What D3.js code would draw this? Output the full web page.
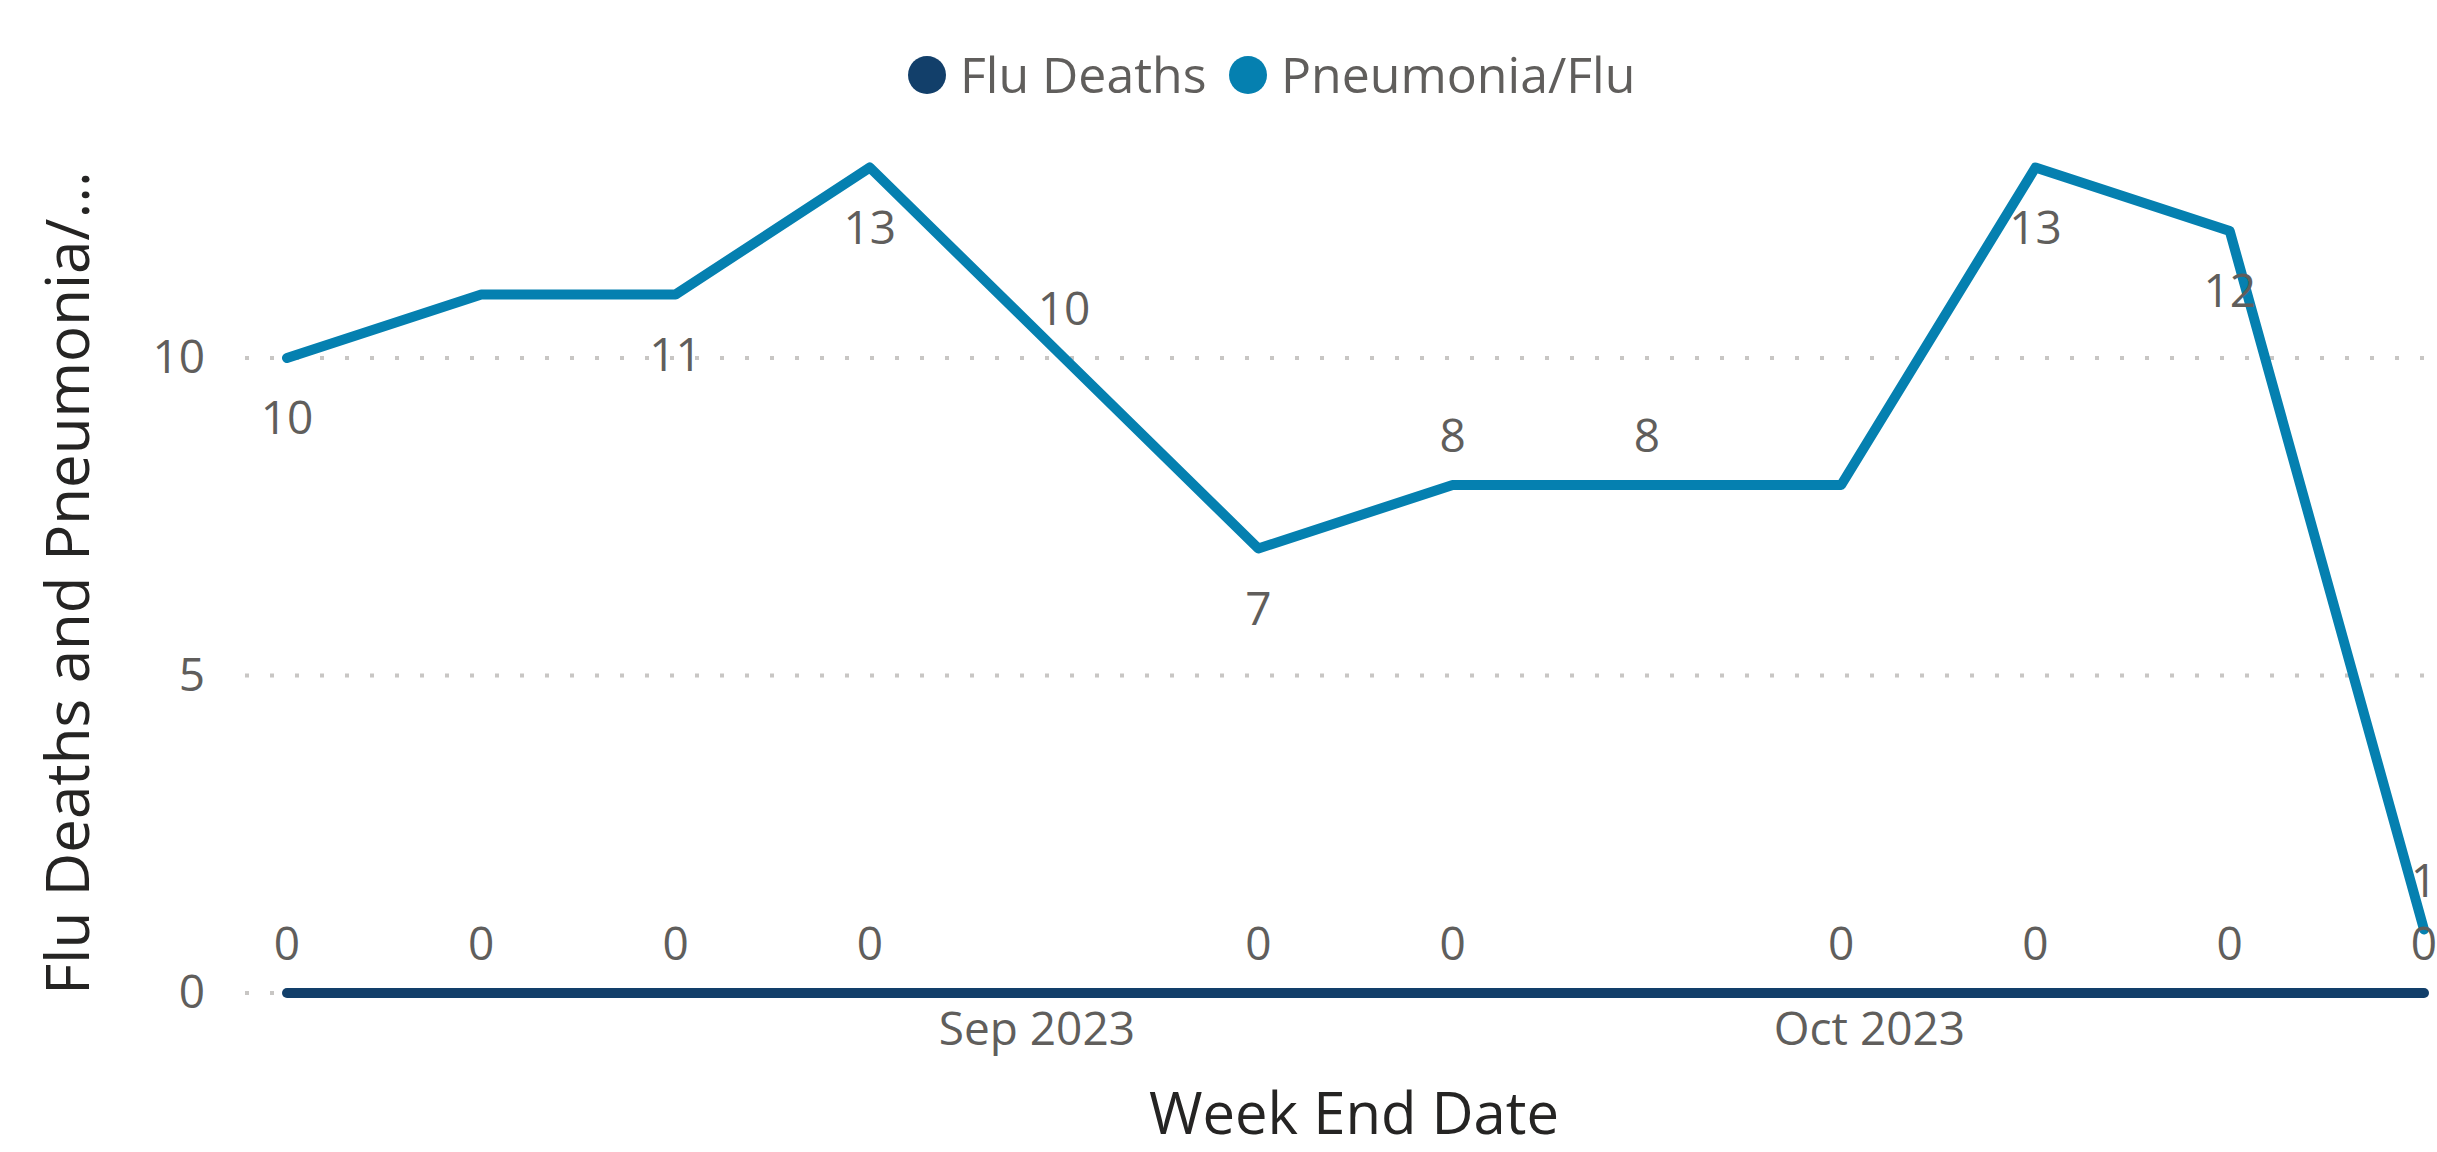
<!DOCTYPE html>
<html>
<head>
<meta charset="utf-8">
<script src="https://cdn.jsdelivr.net/npm/d3@7"></script>
<style>
  body { margin: 0; background: #fff; }
  text { font-family: 'Segoe UI', 'Open Sans', sans-serif; }
</style>
</head>
<body>
<div id="viz"></div>
<script>
var width = 2437,
    height = 1152;

var colorDeaths = '#123f6a',
    colorPneu = '#0580b0',
    gris = '#605e5c',
    oscuro = '#252423';

// datos (semana que termina en sabado)
var weekEnd = ['2023-08-05', '2023-08-12', '2023-08-19', '2023-08-26', '2023-09-02', '2023-09-09',
               '2023-09-16', '2023-09-23', '2023-09-30', '2023-10-07', '2023-10-14', '2023-10-21'];
var fluDeaths = [0, 0, 0, 0, 0, 0, 0, 0, 0, 0, 0, 0];
var pneumoniaFlu = [10, 11, 11, 13, 10, 7, 8, 8, 8, 13, 12, 1];
var seriesNames = ['Flu Deaths', 'Pneumonia/Flu'];
var yTicks = [0, 5, 10];
var xTicks = ['2023-09-01', '2023-10-01'];

// donde va cada etiqueta (como la pone Power BI)
var pneuLabelPos = ['below', '', 'below', 'below', 'above', 'below', 'above', 'above', '', 'below', 'below', 'above'];
var deathLabelPos = ['above', 'above', 'above', 'above', '', 'above', 'above', '', 'above', 'above', 'above', 'above'];

var parse = d3.timeParse('%Y-%m-%d');
var fechas = weekEnd.map(parse);

var svg = d3.select('#viz')
  .append('svg')
  .attr('width', width)
  .attr('height', height)
  .style('background', '#fff');

var x = d3.scaleTime()
  .domain(d3.extent(fechas))
  .range([287, 2424]);

var y = d3.scaleLinear()
  .domain([0, 14])
  .range([993, 104]);

// grilla punteada
svg.append('g').selectAll('line')
  .data(yTicks)
  .enter().append('line')
  .attr('x1', 245)
  .attr('x2', width)
  .attr('y1', function(d) { return y(d); })
  .attr('y2', function(d) { return y(d); })
  .attr('stroke', '#c8c6c4')
  .attr('stroke-width', 4)
  .attr('stroke-dasharray', '4 21');

// eje y
var yAxis = svg.append('g')
  .attr('transform', 'translate(205,0)')
  .call(d3.axisLeft(y).tickValues(yTicks).tickSize(0).tickPadding(0));
yAxis.select('.domain').remove();
yAxis.selectAll('text')
  .style('font-size', '46px')
  .attr('fill', gris);

// eje x
var xAxis = svg.append('g')
  .attr('transform', 'translate(0,1012)')
  .call(d3.axisBottom(x).tickValues(xTicks.map(parse)).tickFormat(d3.timeFormat('%b %Y')).tickSize(0).tickPadding(0));
xAxis.select('.domain').remove();
xAxis.selectAll('text')
  .attr('dy', '0.71em')
  .style('font-size', '46px')
  .attr('fill', gris);

// titulos de ejes
svg.append('text')
  .attr('x', 1354)
  .attr('y', 1114)
  .attr('dy', '0.35em')
  .attr('text-anchor', 'middle')
  .style('font-size', '58px')
  .attr('fill', oscuro)
  .text('Week End Date');

svg.append('text')
  .attr('transform', 'translate(68,583) rotate(-90)')
  .attr('dy', '0.35em')
  .attr('text-anchor', 'middle')
  .style('font-size', '60px')
  .attr('fill', oscuro)
  .text('Flu Deaths and Pneumonia/...');

// lineas
var linea = d3.line()
  .x(function(d) { return x(d.fecha); })
  .y(function(d) { return y(d.v); });

var datosDeaths = fechas.map(function(f, i) { return { fecha: f, v: fluDeaths[i], pos: deathLabelPos[i] }; });
var datosPneu = fechas.map(function(f, i) { return { fecha: f, v: pneumoniaFlu[i], pos: pneuLabelPos[i] }; });

svg.append('path')
  .datum(datosDeaths)
  .attr('d', linea)
  .attr('fill', 'none')
  .attr('stroke', colorDeaths)
  .attr('stroke-width', 10)
  .attr('stroke-linecap', 'round')
  .attr('stroke-linejoin', 'round');

svg.append('path')
  .datum(datosPneu)
  .attr('d', linea)
  .attr('fill', 'none')
  .attr('stroke', colorPneu)
  .attr('stroke-width', 10)
  .attr('stroke-linecap', 'round')
  .attr('stroke-linejoin', 'round');

// etiquetas de datos
function etiquetas(datos) {
  svg.append('g').selectAll('text')
    .data(datos.filter(function(d) { return d.pos !== ''; }))
    .enter().append('text')
    .attr('x', function(d) { return x(d.fecha); })
    .attr('y', function(d) { return y(d.v) + (d.pos === 'above' ? -49 : 60); })
    .attr('dy', '0.35em')
    .attr('text-anchor', 'middle')
    .style('font-size', '46px')
    .attr('fill', gris)
    .text(function(d) { return d.v; });
}
etiquetas(datosDeaths);
etiquetas(datosPneu);

// leyenda
var leyenda = svg.append('g');
var legendX = [927, 1248];
var legendColors = [colorDeaths, colorPneu];

leyenda.selectAll('circle')
  .data(seriesNames)
  .enter().append('circle')
  .attr('cx', function(d, i) { return legendX[i]; })
  .attr('cy', 75)
  .attr('r', 19)
  .style('fill', function(d, i) { return legendColors[i]; });

leyenda.selectAll('text')
  .data(seriesNames)
  .enter().append('text')
  .attr('x', function(d, i) { return legendX[i] + 33; })
  .attr('y', 75)
  .attr('dy', '0.35em')
  .style('font-size', '50px')
  .attr('fill', gris)
  .text(function(d) { return d; });
</script>
</body>
</html>
